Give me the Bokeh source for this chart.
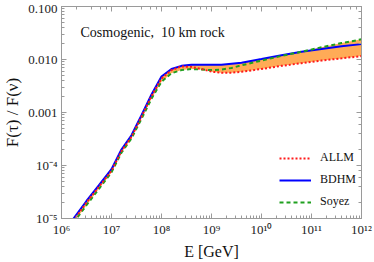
import json
import numpy as np
from bokeh.plotting import figure
from bokeh.models import LogAxis, CustomJSTickFormatter, Label, Range1d
from bokeh.embed import file_html
from bokeh.resources import INLINE

# ---- data ----
energy_gev = [1.74e6, 3.16e6, 5.62e6, 1.0e7, 1.58e7, 2.51e7, 3.98e7, 6.31e7,
              1.0e8, 1.58e8, 2.51e8, 3.98e8, 6.31e8, 1.0e9, 1.58e9, 2.51e9,
              3.98e9, 1.0e10, 2.51e10, 6.31e10, 1.58e11, 3.98e11, 1.0e12]

allm = [9.1e-6, 2.00e-5, 3.98e-5, 7.94e-5, 1.86e-4, 3.47e-4, 8.32e-4, 2.04e-3,
        4.37e-3, 6.31e-3, 7.41e-3, 7.24e-3, 6.61e-3, 5.89e-3, 5.62e-3, 5.62e-3,
        5.89e-3, 6.61e-3, 7.59e-3, 8.51e-3, 9.55e-3, 1.05e-2, 1.16e-2]

bdhm = [1.00e-5, 2.14e-5, 4.27e-5, 8.51e-5, 2.00e-4, 3.72e-4, 8.91e-4, 2.19e-3,
        4.79e-3, 6.61e-3, 7.59e-3, 7.94e-3, 7.94e-3, 7.94e-3, 7.94e-3, 8.32e-3,
        8.71e-3, 1.02e-2, 1.20e-2, 1.40e-2, 1.58e-2, 1.78e-2, 1.95e-2]

soyez = [8.3e-6, 1.78e-5, 3.63e-5, 7.41e-5, 1.74e-4, 3.24e-4, 7.59e-4, 1.82e-3,
         3.80e-3, 5.50e-3, 6.31e-3, 6.61e-3, 6.46e-3, 6.31e-3, 6.46e-3, 6.92e-3,
         7.76e-3, 9.55e-3, 1.17e-2, 1.40e-2, 1.70e-2, 2.04e-2, 2.40e-2]

x_tick_labels = {"6": "10⁶", "7": "10⁷", "8": "10⁸", "9": "10⁹",
                 "10": "10¹⁰", "11": "10¹¹", "12": "10¹²"}
y_tick_labels = {"-5": "10⁻⁵", "-4": "10⁻⁴", "-3": "0.001",
                 "-2": "0.010", "-1": "0.100"}

title_text = "Cosmogenic,\u00a0\u00a010 km rock"
x_label = "E [GeV]"
y_label = "F(τ) / F(ν)"
series_names = ["ALLM", "BDHM", "Soyez"]

FONT = "Liberation Serif"
AXIS_GREY = "#9a9a9a"

p = figure(width=374, height=262, x_axis_type="log", y_axis_type="log",
           x_range=Range1d(1e6, 1e12), y_range=Range1d(1e-5, 1e-1),
           output_backend="svg", toolbar_location=None,
           min_border_left=57, min_border_right=13, min_border_top=6,
           min_border_bottom=42)
p.background_fill_color = "white"
p.border_fill_color = "white"
p.outline_line_color = AXIS_GREY
p.xgrid.visible = False
p.ygrid.visible = False

def fmt(labels):
    return CustomJSTickFormatter(code=(
        "const L = " + json.dumps(labels, ensure_ascii=False) + ";"
        "const k = Math.round(Math.log10(tick)); const s = L[String(k)];"
        "return s === undefined ? '' : s;"))

def style_axis(ax):
    ax.axis_line_color = AXIS_GREY
    ax.major_tick_line_color = AXIS_GREY
    ax.minor_tick_line_color = AXIS_GREY
    ax.major_tick_in = 5
    ax.major_tick_out = 0
    ax.minor_tick_in = 3
    ax.minor_tick_out = 0
    ax.major_label_text_font = FONT
    ax.major_label_text_font_size = "13px"
    ax.major_label_text_color = "#222222"
    ax.axis_label_text_font = FONT
    ax.axis_label_text_font_size = "16px"
    ax.axis_label_text_font_style = "normal"
    ax.axis_label_text_color = "#111111"

xa = p.xaxis[0]
ya = p.yaxis[0]
style_axis(xa)
style_axis(ya)
xa.formatter = fmt(x_tick_labels)
ya.formatter = fmt(y_tick_labels)
xa.axis_label = x_label
ya.axis_label = y_label
ya.axis_label_text_font_size = "17px"
xa.major_label_standoff = 3
xa.axis_label_standoff = 3
ya.major_label_standoff = 4
ya.axis_label_standoff = 3

# mirrored axes (ticks only)
for loc in ("above", "right"):
    ax = LogAxis()
    style_axis(ax)
    ax.formatter = CustomJSTickFormatter(code="return '';")
    ax.major_label_standoff = 0
    p.add_layout(ax, loc)

# band between the models
lo = np.minimum(np.minimum(allm, bdhm), soyez)
hi = np.maximum(np.maximum(allm, bdhm), soyez)
p.varea(x=energy_gev, y1=lo, y2=hi, fill_color="#ffab57", fill_alpha=1.0)

r_b = p.line(energy_gev, bdhm, line_color="#0000ff", line_width=2,
             legend_label=series_names[1])
r_s = p.line(energy_gev, soyez, line_color="#1fa01f", line_width=2,
             line_dash="4 3", legend_label=series_names[2])
r_a = p.line(energy_gev, allm, line_color="#ff1a1a", line_width=2,
             line_dash="2 2", legend_label=series_names[0])

leg = p.legend[0]
leg.items = [leg.items[2], leg.items[0], leg.items[1]]
leg.location = (218, 9)
leg.border_line_color = None
leg.background_fill_alpha = 0
leg.padding = 0
leg.margin = 0
leg.spacing = 7
leg.glyph_width = 32
leg.glyph_height = 14
leg.label_height = 14
leg.label_standoff = 9
leg.label_text_font = FONT
leg.label_text_font_size = "12px"
leg.label_text_color = "#111111"

p.add_layout(Label(x=19, y=179, x_units="screen", y_units="screen",
                   text=title_text, text_font=FONT, text_font_size="14px",
                   text_color="#111111"))

html = file_html(p, INLINE)
html = html.replace("<head>", "<head><style>html,body{margin:0;padding:0;}</style>", 1)
open("out.html", "w").write(html)
